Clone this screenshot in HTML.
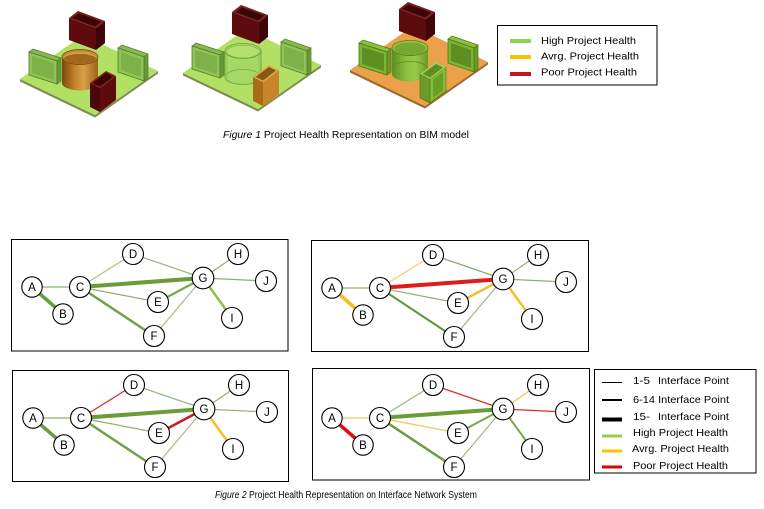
<!DOCTYPE html>
<html>
<head>
<meta charset="utf-8">
<style>
  html,body{margin:0;padding:0;background:#fff;}
  svg{display:block;}
  text{font-family:"Liberation Sans",Arial,sans-serif;fill:#000;}
</style>
</head>
<body>
<svg width="764" height="509" viewBox="0 0 764 509" xmlns="http://www.w3.org/2000/svg">
<defs>
  <linearGradient id="cylO" x1="0" x2="1" y1="0" y2="0">
    <stop offset="0" stop-color="#7a4a0a"/>
    <stop offset="0.35" stop-color="#c08028"/>
    <stop offset="0.6" stop-color="#d8a048"/>
    <stop offset="1" stop-color="#9a6414"/>
  </linearGradient>
  <linearGradient id="cylG" x1="0" x2="1" y1="0" y2="0">
    <stop offset="0" stop-color="#6e9e30"/>
    <stop offset="0.4" stop-color="#9cd050"/>
    <stop offset="0.65" stop-color="#a8d860"/>
    <stop offset="1" stop-color="#78a838"/>
  </linearGradient>
  <linearGradient id="cylG3" x1="0" x2="1" y1="0" y2="0">
    <stop offset="0" stop-color="#5e8e22"/>
    <stop offset="0.4" stop-color="#8cc03c"/>
    <stop offset="0.65" stop-color="#98c848"/>
    <stop offset="1" stop-color="#6a9a28"/>
  </linearGradient>
</defs>
<rect width="764" height="509" fill="#fff"/>

<!-- ================= BIM MODEL 1 ================= -->
<g>
  <polygon points="20,79 95,115 158,71 158,73.5 95,117.5 20,81.5" fill="#7e8c50"/>
  <polygon points="20,79 83,35 158,71 95,115" fill="#b2e064"/>
  <!-- back dark box -->
  <polygon points="69,40 96,50 96,28 69,18" fill="#5e0b0e"/>
  <polygon points="96,50 105,43 105,21 96,28" fill="#3f0608"/>
  <polygon points="69,18 96,28 105,21 78,11" fill="#7a1c1e"/>
  <polygon points="72,18 95,26.5 101,21.5 79,13.5" fill="#3a0507"/>
  <!-- right panel -->
  <polygon points="118,48 122,45 148,54 144,57" fill="#88b850" stroke="#4e7a24" stroke-width="0.7"/>
  <polygon points="144,57 148,54 148,78 144,81" fill="#6a9a38" stroke="#4e7a24" stroke-width="0.7"/>
  <polygon points="118,48 144,57 144,81 118,72" fill="#90c458" stroke="#4e7a24" stroke-width="0.8"/>
  <polygon points="121,52 141,59 141,77 121,70" fill="#7eb248"/>
  <!-- left panel -->
  <polygon points="29,52 33,49 61,58 57,61" fill="#88b850" stroke="#4e7a24" stroke-width="0.7"/>
  <polygon points="57,61 61,58 61,81 57,84" fill="#6a9a38" stroke="#4e7a24" stroke-width="0.7"/>
  <polygon points="29,52 57,61 57,84 29,75" fill="#90c458" stroke="#4e7a24" stroke-width="0.8"/>
  <polygon points="32,56 54,63 54,80 32,73" fill="#7eb248"/>
  <!-- cylinder orange -->
  <path d="M62,57 L62,83 A18,7.5 0 0 0 98,83 L98,57 Z" fill="url(#cylO)"/>
  <ellipse cx="80" cy="57" rx="18" ry="7.5" fill="#c88a34" stroke="#6a4008" stroke-width="0.7"/>
  <ellipse cx="80" cy="57.6" rx="16.3" ry="6.4" fill="#a06818"/>
  <path d="M63.7,57.6 A16.3,6.4 0 0 1 96.3,57.6 L96.3,59 A16.3,5 0 0 0 63.7,59 Z" fill="#d49a48"/>
  <!-- front dark box -->
  <polygon points="90,107 100,112 100,88 90,83" fill="#4a080a"/>
  <polygon points="100,112 116,100 116,76 100,88" fill="#5e0b0e"/>
  <polygon points="90,83 100,88 116,76 106,71" fill="#7a1c1e"/>
  <polygon points="92.5,83 100,86.5 113,76.5 106,73" fill="#3a0507"/>
</g>

<!-- ================= BIM MODEL 2 ================= -->
<g transform="translate(163,-6)">
  <polygon points="20,79 95,115 158,71 158,73.5 95,117.5 20,81.5" fill="#7e8c50"/>
  <polygon points="20,79 83,35 158,71 95,115" fill="#b2e064"/>
  <polygon points="69,40 96,50 96,28 69,18" fill="#5e0b0e"/>
  <polygon points="96,50 105,43 105,21 96,28" fill="#3f0608"/>
  <polygon points="69,18 96,28 105,21 78,11" fill="#7a1c1e"/>
  <polygon points="72,18 95,26.5 101,21.5 79,13.5" fill="#3a0507"/>
  <polygon points="118,48 122,45 148,54 144,57" fill="#88b850" stroke="#4e7a24" stroke-width="0.7"/>
  <polygon points="144,57 148,54 148,78 144,81" fill="#6a9a38" stroke="#4e7a24" stroke-width="0.7"/>
  <polygon points="118,48 144,57 144,81 118,72" fill="#90c458" stroke="#4e7a24" stroke-width="0.8"/>
  <polygon points="121,52 141,59 141,77 121,70" fill="#7eb248"/>
  <polygon points="29,52 33,49 61,58 57,61" fill="#88b850" stroke="#4e7a24" stroke-width="0.7"/>
  <polygon points="57,61 61,58 61,81 57,84" fill="#6a9a38" stroke="#4e7a24" stroke-width="0.7"/>
  <polygon points="29,52 57,61 57,84 29,75" fill="#90c458" stroke="#4e7a24" stroke-width="0.8"/>
  <polygon points="32,56 54,63 54,80 32,73" fill="#7eb248"/>
  <!-- cylinder translucent green -->
  <path d="M62,57 L62,83 A18,7.5 0 0 0 98,83 L98,57 Z" fill="#a6d866" stroke="#6a9a38" stroke-width="0.8"/>
  <path d="M62,83 A18,7.5 0 0 1 98,83" fill="none" stroke="#7aaa44" stroke-width="0.7"/>
  <ellipse cx="80" cy="57" rx="18" ry="7.5" fill="#b4e070" stroke="#6a9a38" stroke-width="0.8"/>
  <ellipse cx="80" cy="57.6" rx="16.3" ry="6.4" fill="none" stroke="#7aaa44" stroke-width="0.6"/>
  <line x1="64" y1="58" x2="64" y2="84" stroke="#8cbc54" stroke-width="0.6"/>
  <line x1="96" y1="58" x2="96" y2="84" stroke="#8cbc54" stroke-width="0.6"/>
  <!-- front orange box -->
  <polygon points="90,107 100,112 100,88 90,83" fill="#a86c18"/>
  <polygon points="100,112 116,100 116,76 100,88" fill="#c8842a"/>
  <polygon points="90,83 100,88 116,76 106,71" fill="#e0a850"/>
  <polygon points="92.5,83 100,86.5 113,76.5 106,73" fill="#8a5610"/>
</g>

<!-- ================= BIM MODEL 3 ================= -->
<g transform="translate(330,-9)">
  <polygon points="20,79 95,115 158,71 158,73.5 95,117.5 20,81.5" fill="#9a6a28"/>
  <polygon points="20,79 83,35 158,71 95,115" fill="#eba04a"/>
  <polygon points="69,40 96,50 96,28 69,18" fill="#5e0b0e"/>
  <polygon points="96,50 105,43 105,21 96,28" fill="#3f0608"/>
  <polygon points="69,18 96,28 105,21 78,11" fill="#7a1c1e"/>
  <polygon points="72,18 95,26.5 101,21.5 79,13.5" fill="#3a0507"/>
  <polygon points="118,48 122,45 148,54 144,57" fill="#8cc040" stroke="#4a7818" stroke-width="0.7"/>
  <polygon points="144,57 148,54 148,78 144,81" fill="#6a9a28" stroke="#4a7818" stroke-width="0.7"/>
  <polygon points="118,48 144,57 144,81 118,72" fill="#7cb432" stroke="#4a7818" stroke-width="0.8"/>
  <polygon points="121,52 141,59 141,77 121,70" fill="#5e8e22"/>
  <polygon points="29,52 33,49 61,58 57,61" fill="#8cc040" stroke="#4a7818" stroke-width="0.7"/>
  <polygon points="57,61 61,58 61,81 57,84" fill="#6a9a28" stroke="#4a7818" stroke-width="0.7"/>
  <polygon points="29,52 57,61 57,84 29,75" fill="#7cb432" stroke="#4a7818" stroke-width="0.8"/>
  <polygon points="32,56 54,63 54,80 32,73" fill="#5e8e22"/>
  <path d="M62,57 L62,83 A18,7.5 0 0 0 98,83 L98,57 Z" fill="url(#cylG3)"/>
  <path d="M62,78 A18,7.5 0 0 1 98,78" fill="none" stroke="#5e8e22" stroke-width="0.8"/>
  <ellipse cx="80" cy="57" rx="18" ry="7.5" fill="#9ccc50" stroke="#4a7818" stroke-width="0.7"/>
  <ellipse cx="80" cy="57.6" rx="16.3" ry="6.4" fill="#78a830"/>
  <!-- front green box -->
  <polygon points="90,107 100,112 100,88 90,83" fill="#6a9a28" stroke="#4a7818" stroke-width="0.6"/>
  <polygon points="100,112 116,100 116,76 100,88" fill="#84bc38" stroke="#4a7818" stroke-width="0.6"/>
  <polygon points="103,107 113,99.5 113,81 103,88.5" fill="#6a9e26"/>
  <polygon points="90,83 100,88 116,76 106,71" fill="#a0d058"/>
  <polygon points="92.5,83 100,86.5 113,76.5 106,73" fill="#5e8e22"/>
</g>

<!-- Legend 1 -->
<rect x="497.5" y="25.5" width="159.5" height="59.5" fill="#fff" stroke="#000" stroke-width="1"/>
<line x1="510" y1="41" x2="531" y2="41" stroke="#92d050" stroke-width="4"/>
<line x1="510" y1="57" x2="531" y2="57" stroke="#ffc000" stroke-width="4"/>
<line x1="510" y1="74" x2="531" y2="74" stroke="#c8141c" stroke-width="4"/>
<text x="541" y="44" font-size="10.5" textLength="95" lengthAdjust="spacingAndGlyphs">High Project Health</text>
<text x="541" y="59.5" font-size="10.5" textLength="98" lengthAdjust="spacingAndGlyphs">Avrg. Project Health</text>
<text x="541" y="75.5" font-size="10.5" textLength="96" lengthAdjust="spacingAndGlyphs">Poor Project Health</text>

<!-- Caption 1 -->
<text x="223" y="138" font-size="10" textLength="246" lengthAdjust="spacingAndGlyphs"><tspan font-style="italic">Figure 1</tspan> Project Health Representation on BIM model</text>

<!-- ================= NETWORK PANELS ================= -->
<rect x="11.5" y="239.5" width="276.5" height="111.5" fill="none" stroke="#000" stroke-width="1"/>
<rect x="311.5" y="240.5" width="277" height="111" fill="none" stroke="#000" stroke-width="1"/>
<rect x="12.5" y="370.5" width="276" height="111" fill="none" stroke="#000" stroke-width="1"/>
<rect x="312.5" y="368.5" width="277" height="111.5" fill="none" stroke="#000" stroke-width="1"/>

<!-- Panel 1 -->
<g>
  <g stroke-linecap="round">
    <line x1="32" y1="287" x2="63" y2="314" stroke="#6a9c40" stroke-width="3.5"/>
    <line x1="32" y1="287" x2="80" y2="287" stroke="#8fb070" stroke-width="1.2"/>
    <line x1="80" y1="287" x2="133" y2="254" stroke="#a8cc80" stroke-width="1.2"/>
    <line x1="80" y1="287" x2="158" y2="302" stroke="#8fb070" stroke-width="1.2"/>
    <line x1="80" y1="287" x2="154" y2="336" stroke="#72a048" stroke-width="2.5"/>
    <line x1="133" y1="254" x2="203" y2="278" stroke="#9ab880" stroke-width="1.2"/>
    <line x1="154" y1="336" x2="203" y2="278" stroke="#a0bc88" stroke-width="1.2"/>
    <line x1="158" y1="302" x2="203" y2="278" stroke="#78a84a" stroke-width="2.2"/>
    <line x1="80" y1="287" x2="203" y2="278" stroke="#6a9c38" stroke-width="4"/>
    <line x1="203" y1="278" x2="238" y2="254" stroke="#8fb070" stroke-width="1.2"/>
    <line x1="203" y1="278" x2="266" y2="281" stroke="#8fb070" stroke-width="1.2"/>
    <line x1="203" y1="278" x2="232" y2="318" stroke="#8cc050" stroke-width="2.5"/>
  </g>
  <g fill="#fff" stroke="#000" stroke-width="1.1">
    <circle cx="32" cy="287" r="10.2"/><circle cx="63" cy="314" r="10.2"/><circle cx="80" cy="287" r="10.5"/>
    <circle cx="133" cy="254" r="10.5"/><circle cx="158" cy="302" r="10.5"/><circle cx="154" cy="336" r="10.5"/>
    <circle cx="203" cy="278" r="10.8"/><circle cx="238" cy="254" r="10.5"/><circle cx="232" cy="318" r="10.5"/>
    <circle cx="266" cy="281" r="10.5"/>
  </g>
  <g font-size="11.5" text-anchor="middle">
    <text x="32" y="291">A</text><text x="63" y="318">B</text><text x="80" y="291">C</text>
    <text x="133" y="258">D</text><text x="158" y="306">E</text><text x="154" y="340">F</text>
    <text x="203" y="282">G</text><text x="238" y="258">H</text><text x="232" y="322">I</text>
    <text x="266" y="285">J</text>
  </g>
</g>

<!-- Panel 2 -->
<g transform="translate(300,1)">
  <g stroke-linecap="round">
    <line x1="32" y1="287" x2="63" y2="314" stroke="#f0c020" stroke-width="3.5"/>
    <line x1="32" y1="287" x2="80" y2="287" stroke="#8fb070" stroke-width="1.2"/>
    <line x1="80" y1="287" x2="133" y2="254" stroke="#f0d070" stroke-width="1.3"/>
    <line x1="80" y1="287" x2="158" y2="302" stroke="#8fb070" stroke-width="1.2"/>
    <line x1="80" y1="287" x2="154" y2="336" stroke="#5e9438" stroke-width="2"/>
    <line x1="133" y1="254" x2="203" y2="278" stroke="#8aaa70" stroke-width="1.2"/>
    <line x1="154" y1="336" x2="203" y2="278" stroke="#9ab880" stroke-width="1.2"/>
    <line x1="158" y1="302" x2="203" y2="278" stroke="#f0c030" stroke-width="2.5"/>
    <line x1="80" y1="287" x2="203" y2="278" stroke="#e01c1c" stroke-width="4"/>
    <line x1="203" y1="278" x2="238" y2="254" stroke="#8fb070" stroke-width="1.2"/>
    <line x1="203" y1="278" x2="266" y2="281" stroke="#8fb070" stroke-width="1.2"/>
    <line x1="203" y1="278" x2="232" y2="318" stroke="#f0c030" stroke-width="2.5"/>
  </g>
  <g fill="#fff" stroke="#000" stroke-width="1.1">
    <circle cx="32" cy="287" r="10.2"/><circle cx="63" cy="314" r="10.2"/><circle cx="80" cy="287" r="10.5"/>
    <circle cx="133" cy="254" r="10.5"/><circle cx="158" cy="302" r="10.5"/><circle cx="154" cy="336" r="10.5"/>
    <circle cx="203" cy="278" r="10.8"/><circle cx="238" cy="254" r="10.5"/><circle cx="232" cy="318" r="10.5"/>
    <circle cx="266" cy="281" r="10.5"/>
  </g>
  <g font-size="11.5" text-anchor="middle">
    <text x="32" y="291">A</text><text x="63" y="318">B</text><text x="80" y="291">C</text>
    <text x="133" y="258">D</text><text x="158" y="306">E</text><text x="154" y="340">F</text>
    <text x="203" y="282">G</text><text x="238" y="258">H</text><text x="232" y="322">I</text>
    <text x="266" y="285">J</text>
  </g>
</g>

<!-- Panel 3 -->
<g transform="translate(1,131)">
  <g stroke-linecap="round">
    <line x1="32" y1="287" x2="63" y2="314" stroke="#6a9c40" stroke-width="3.5"/>
    <line x1="32" y1="287" x2="80" y2="287" stroke="#8fb070" stroke-width="1.2"/>
    <line x1="80" y1="287" x2="133" y2="254" stroke="#d83030" stroke-width="1.3"/>
    <line x1="80" y1="287" x2="158" y2="302" stroke="#8fb070" stroke-width="1.2"/>
    <line x1="80" y1="287" x2="154" y2="336" stroke="#72a048" stroke-width="2.5"/>
    <line x1="133" y1="254" x2="203" y2="278" stroke="#9ab880" stroke-width="1.2"/>
    <line x1="154" y1="336" x2="203" y2="278" stroke="#a0bc88" stroke-width="1.2"/>
    <line x1="158" y1="302" x2="203" y2="278" stroke="#d01818" stroke-width="2.5"/>
    <line x1="80" y1="287" x2="203" y2="278" stroke="#6a9c38" stroke-width="4"/>
    <line x1="203" y1="278" x2="238" y2="254" stroke="#8fb070" stroke-width="1.2"/>
    <line x1="203" y1="278" x2="266" y2="281" stroke="#8fb070" stroke-width="1.2"/>
    <line x1="203" y1="278" x2="232" y2="318" stroke="#f0c030" stroke-width="2.5"/>
  </g>
  <g fill="#fff" stroke="#000" stroke-width="1.1">
    <circle cx="32" cy="287" r="10.2"/><circle cx="63" cy="314" r="10.2"/><circle cx="80" cy="287" r="10.5"/>
    <circle cx="133" cy="254" r="10.5"/><circle cx="158" cy="302" r="10.5"/><circle cx="154" cy="336" r="10.5"/>
    <circle cx="203" cy="278" r="10.8"/><circle cx="238" cy="254" r="10.5"/><circle cx="232" cy="318" r="10.5"/>
    <circle cx="266" cy="281" r="10.5"/>
  </g>
  <g font-size="11.5" text-anchor="middle">
    <text x="32" y="291">A</text><text x="63" y="318">B</text><text x="80" y="291">C</text>
    <text x="133" y="258">D</text><text x="158" y="306">E</text><text x="154" y="340">F</text>
    <text x="203" y="282">G</text><text x="238" y="258">H</text><text x="232" y="322">I</text>
    <text x="266" y="285">J</text>
  </g>
</g>

<!-- Panel 4 -->
<g transform="translate(300,131)">
  <g stroke-linecap="round">
    <line x1="32" y1="287" x2="63" y2="314" stroke="#e01010" stroke-width="3.5"/>
    <line x1="32" y1="287" x2="80" y2="287" stroke="#f0c860" stroke-width="1.3"/>
    <line x1="80" y1="287" x2="133" y2="254" stroke="#9ab880" stroke-width="1.2"/>
    <line x1="80" y1="287" x2="158" y2="302" stroke="#f0c860" stroke-width="1.3"/>
    <line x1="80" y1="287" x2="154" y2="336" stroke="#6a9c40" stroke-width="2.5"/>
    <line x1="133" y1="254" x2="203" y2="278" stroke="#d83030" stroke-width="1.3"/>
    <line x1="154" y1="336" x2="203" y2="278" stroke="#9ab880" stroke-width="1.2"/>
    <line x1="158" y1="302" x2="203" y2="278" stroke="#78a84a" stroke-width="2"/>
    <line x1="80" y1="287" x2="203" y2="278" stroke="#6a9c38" stroke-width="4"/>
    <line x1="203" y1="278" x2="238" y2="254" stroke="#f0c860" stroke-width="1.3"/>
    <line x1="203" y1="278" x2="266" y2="281" stroke="#d83030" stroke-width="1.3"/>
    <line x1="203" y1="278" x2="232" y2="318" stroke="#78a84a" stroke-width="2"/>
  </g>
  <g fill="#fff" stroke="#000" stroke-width="1.1">
    <circle cx="32" cy="287" r="10.2"/><circle cx="63" cy="314" r="10.2"/><circle cx="80" cy="287" r="10.5"/>
    <circle cx="133" cy="254" r="10.5"/><circle cx="158" cy="302" r="10.5"/><circle cx="154" cy="336" r="10.5"/>
    <circle cx="203" cy="278" r="10.8"/><circle cx="238" cy="254" r="10.5"/><circle cx="232" cy="318" r="10.5"/>
    <circle cx="266" cy="281" r="10.5"/>
  </g>
  <g font-size="11.5" text-anchor="middle">
    <text x="32" y="291">A</text><text x="63" y="318">B</text><text x="80" y="291">C</text>
    <text x="133" y="258">D</text><text x="158" y="306">E</text><text x="154" y="340">F</text>
    <text x="203" y="282">G</text><text x="238" y="258">H</text><text x="232" y="322">I</text>
    <text x="266" y="285">J</text>
  </g>
</g>

<!-- Legend 2 -->
<rect x="594.5" y="369.5" width="161.5" height="103.5" fill="#fff" stroke="#000" stroke-width="1"/>
<line x1="602" y1="382.5" x2="622" y2="382.5" stroke="#000" stroke-width="1"/>
<line x1="602" y1="400" x2="622" y2="400" stroke="#000" stroke-width="2"/>
<line x1="602" y1="419.5" x2="622" y2="419.5" stroke="#000" stroke-width="4"/>
<line x1="602" y1="436" x2="622" y2="436" stroke="#92d050" stroke-width="3"/>
<line x1="602" y1="451" x2="622" y2="451" stroke="#ffc000" stroke-width="3"/>
<line x1="602" y1="467" x2="622" y2="467" stroke="#e00000" stroke-width="3"/>
<g font-size="10.5">
  <text x="633" y="384" textLength="17" lengthAdjust="spacingAndGlyphs">1-5</text>
  <text x="658" y="384" textLength="71" lengthAdjust="spacingAndGlyphs">Interface Point</text>
  <text x="633" y="403" textLength="96" lengthAdjust="spacingAndGlyphs">6-14 Interface Point</text>
  <text x="633" y="420" textLength="17" lengthAdjust="spacingAndGlyphs">15-</text>
  <text x="658" y="420" textLength="71" lengthAdjust="spacingAndGlyphs">Interface Point</text>
  <text x="633" y="436" textLength="95" lengthAdjust="spacingAndGlyphs">High Project Health</text>
  <text x="632" y="452" textLength="97" lengthAdjust="spacingAndGlyphs">Avrg. Project Health</text>
  <text x="633" y="469" textLength="95" lengthAdjust="spacingAndGlyphs">Poor Project Health</text>
</g>

<!-- Caption 2 -->
<text x="215" y="498" font-size="10" textLength="262" lengthAdjust="spacingAndGlyphs"><tspan font-style="italic">Figure 2</tspan> Project Health Representation on Interface Network System</text>
</svg>
</body>
</html>
